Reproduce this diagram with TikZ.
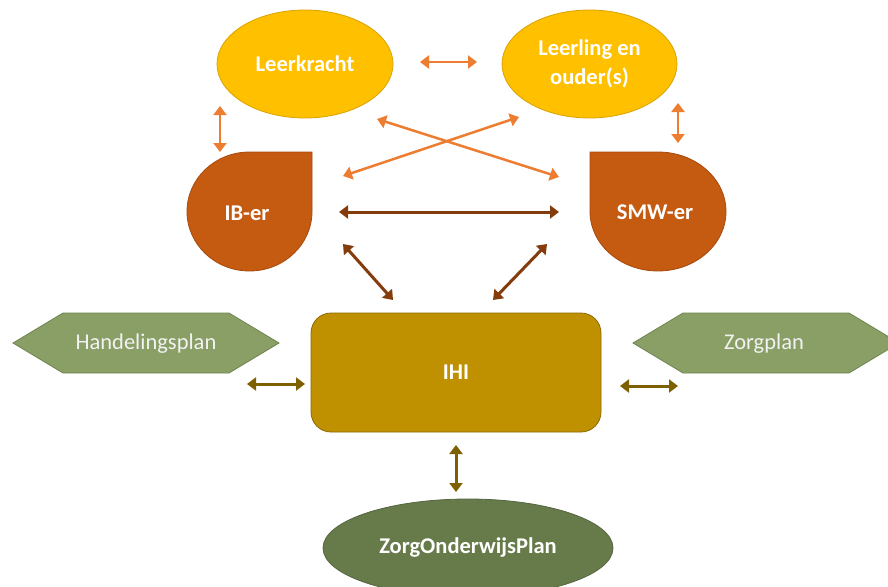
\documentclass[tikz,border=0pt]{standalone}
\usepackage{fontspec}
\setmainfont{Carlito}
\usetikzlibrary{shapes.geometric,arrows.meta}
\definecolor{geel}{HTML}{FFC000}
\definecolor{geelrand}{HTML}{D9A300}
\definecolor{roest}{HTML}{C55A11}
\definecolor{roestrand}{HTML}{A64B0E}
\definecolor{oker}{HTML}{BF9000}
\definecolor{okerrand}{HTML}{8C6A00}
\definecolor{olijf}{HTML}{8A9F66}
\definecolor{olijfrand}{HTML}{6F8650}
\definecolor{mos}{HTML}{677A4A}
\definecolor{mosrand}{HTML}{546540}
\definecolor{oranjepijl}{HTML}{ED7D31}
\definecolor{bruinpijl}{HTML}{843C0C}
\definecolor{okerpijl}{HTML}{7F6000}
\tikzset{
  tekst/.style={text=white,font=\fontsize{22.5}{29}\selectfont\bfseries,inner sep=0pt,align=center},
  ovaal/.style={tekst,ellipse,fill=geel,draw=geelrand,line width=0.8pt},
  druppel/.style={fill=roest,draw=roestrand,line width=0.8pt},
  blok/.style={tekst,rectangle,rounded corners=20pt,fill=oker,draw=okerrand,line width=0.8pt},
  zeshoek/.style={fill=olijf,draw=olijfrand,line width=0.8pt},
  plantekst/.style={text=white!95!black,font=\fontsize{22.5}{27}\selectfont,inner sep=0pt},
  pijl/.style={{Triangle[length=9pt,width=13pt]}-{Triangle[length=9pt,width=13pt]},line width=2.5pt},
}
\begin{document}
\begin{tikzpicture}[x=1pt, y=-1pt]
    \clip (0,0) rectangle (888,586);
    \fill[white] (0,0) rectangle (888,586);

    % coordinates to be reused
    \coordinate (lkR) at (420,62);
    \coordinate (llL) at (477,62);
    \coordinate (lkB) at (220,106);
    \coordinate (ibT) at (220,152);
    \coordinate (llB) at (678,103);
    \coordinate (smwT) at (678,143);
    \coordinate (lkX) at (377,119);
    \coordinate (smwX) at (559,177);
    \coordinate (llX) at (519,117);
    \coordinate (ibX) at (343,176);
    \coordinate (ibR) at (339,212);
    \coordinate (smwL) at (559,212);
    \coordinate (ibO) at (343,244);
    \coordinate (ihiL) at (393,300);
    \coordinate (smwO) at (547,244);
    \coordinate (ihiR) at (493,300);
    \coordinate (hpR) at (247,384);
    \coordinate (ihiW) at (305,384);
    \coordinate (ihiE) at (620,386);
    \coordinate (zpL) at (678,386);
    \coordinate (ihiO) at (456,445);
    \coordinate (zopT) at (456,492);

    % draw figure
    \node[ovaal,minimum width=176pt,minimum height=108pt] (lk) at (305,64) {Leerkracht};
    \node[ovaal,minimum width=175pt,minimum height=108pt] (ll) at (589.5,64) {Leerling en\\ouder(s)};
    \draw[druppel] (312,152) -- (312,211.5)
        arc[start angle=0,end angle=270,x radius=62.5,y radius=59.5] -- cycle;
    \draw[druppel] (590,152) -- (590,211.5)
        arc[start angle=180,end angle=-90,x radius=68,y radius=59.5] -- cycle;
    \node[blok,minimum width=290pt,minimum height=119pt] (ihi) at (456,372.5) {IHI};
    \draw[zeshoek] (13,343) -- (63,313) -- (229,313) -- (279,343) -- (229,373) -- (63,373) -- cycle;
    \draw[zeshoek] (633,343) -- (683,313) -- (849,313) -- (899,343) -- (849,373) -- (683,373) -- cycle;
    \node[tekst,ellipse,fill=mos,draw=mosrand,line width=0.8pt,minimum width=290pt,minimum height=98pt] (zop) at (468,548) {ZorgOnderwijsPlan};

    % add labels
    \node[tekst] (ib) at (247,213) {IB-er};
    \node[tekst] (smw) at (655,212) {SMW-er};
    \node[plantekst] (hp) at (146,344) {Handelingsplan};
    \node[plantekst] (zp) at (764,344) {Zorgplan};

    % connectors
    \draw[pijl,oranjepijl] (lkR) -- (llL);
    \draw[pijl,oranjepijl] (lkB) -- (ibT);
    \draw[pijl,oranjepijl] (llB) -- (smwT);
    \draw[pijl,oranjepijl] (lkX) -- (smwX);
    \draw[pijl,oranjepijl] (llX) -- (ibX);
    \draw[pijl,bruinpijl,line width=3pt] (ibR) -- (smwL);
    \draw[pijl,bruinpijl,line width=3pt] (ibO) -- (ihiL);
    \draw[pijl,bruinpijl,line width=3pt] (smwO) -- (ihiR);
    \draw[pijl,okerpijl,line width=3pt] (hpR) -- (ihiW);
    \draw[pijl,okerpijl,line width=3pt] (ihiE) -- (zpL);
    \draw[pijl,okerpijl,line width=3pt] (ihiO) -- (zopT);
\end{tikzpicture}
\end{document}
